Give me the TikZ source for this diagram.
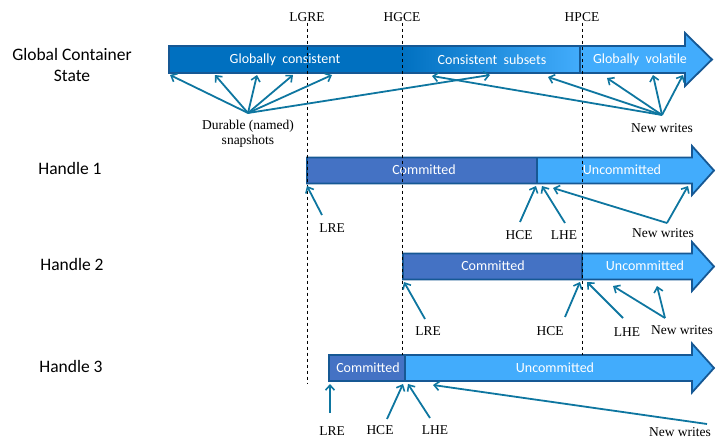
\documentclass[tikz,border=0pt]{standalone}
\usepackage{fontspec}
\setmainfont{Liberation Serif}
\newfontfamily\calibri{Carlito}
\usetikzlibrary{arrows.meta}

\definecolor{gdark}{RGB}{0,112,192}
\definecolor{glight}{RGB}{66,172,252}
\definecolor{commit}{RGB}{68,114,196}
\definecolor{edgecol}{RGB}{22,88,148}
\definecolor{ptrcol}{RGB}{14,118,160}

\tikzset{
  ptr/.style={draw=ptrcol, line width=1.8pt, -{Straight Barb[length=5pt,width=9pt,line width=1.6pt]}},
  epoch/.style={dashed, line width=0.9pt},
  barline/.style={draw=edgecol, line width=1.8pt},
  bartext/.style={text=white, font=\calibri\fontsize{14}{16}\selectfont},
  side/.style={font=\calibri\fontsize{17.5}{21}\selectfont, align=center},
  note/.style={font=\fontsize{13.5}{15}\selectfont, align=center, inner sep=1pt},
}

% arrow-shaped bars: left x, centre y
\newcommand{\gshape}{(169,46) -- (685,46) -- (685,33) -- (712,59.5) -- (685,86) -- (685,73) -- (169,73) -- cycle}
\newcommand{\hshape}[2]{(#1,{#2-13}) -- (692,{#2-13}) -- (692,{#2-24.5}) -- (714,#2) -- (692,{#2+24.5}) -- (692,{#2+13}) -- (#1,{#2+13}) -- cycle}

\begin{document}
\begin{tikzpicture}[x=1pt,y=-1pt]
\useasboundingbox (0,0) rectangle (716,439);

% row labels
\node[side] (gstate) at (72,65) {Global Container\\State};
\node[side] (h1) at (70,168) {Handle 1};
\node[side] (h2) at (72,264) {Handle 2};
\node[side] (h3) at (71,366) {Handle 3};

% global bar
\fill[glight] \gshape;
\fill[gdark] (169,46) rectangle (400,73);
\shade[left color=gdark, right color=glight] (400,46) rectangle (580,73);
\draw[barline] \gshape;
\draw[barline] (580,46) -- (580,73);
\node[bartext] (gcons) at (285,60) {Globally\ \ consistent};
\node[bartext] (csub) at (492,60) {Consistent\ \ subsets};
\node[bartext] (gvol) at (640,60) {Globally\ \ volatile};

% handle 1
\fill[glight] \hshape{307}{170.5};
\fill[commit] (307,157.5) rectangle (537,183.5);
\draw[barline] \hshape{307}{170.5};
\draw[barline] (537,157.5) -- (537,183.5);
\node[bartext] (c1) at (424,170) {Committed};
\node[bartext] (u1) at (622,170) {Uncommitted};

% handle 2
\fill[glight] \hshape{403}{266.5};
\fill[commit] (403,253.5) rectangle (582,279.5);
\draw[barline] \hshape{403}{266.5};
\draw[barline] (582,253.5) -- (582,279.5);
\node[bartext] (c2) at (493,266) {Committed};
\node[bartext] (u2) at (645,266) {Uncommitted};

% handle 3
\fill[glight] \hshape{329}{368};
\fill[commit] (329,355) rectangle (405,381);
\draw[barline] \hshape{329}{368};
\draw[barline] (405,355) -- (405,381);
\node[bartext] (c3) at (368,368) {Committed};
\node[bartext] (u3) at (555,368) {Uncommitted};

% epochs
\node[note] (lgre) at (307,17) {LGRE};
\node[note] (hgce) at (402,17) {HGCE};
\node[note] (hpce) at (582,17) {HPCE};
\draw[epoch] (lgre.south) -- (lgre.south |- 0,384);
\draw[epoch] (hgce.south) -- (hgce.south |- 0,355);
\draw[epoch] (hpce.south) -- (hpce.south |- 0,355);

% snapshots and new writes on the global bar
\node[note] (dur) at (248,134) {Durable (named)\\snapshots};
\coordinate (durtop) at (248,113);
\foreach \x [count=\i] in {170,215,257,293,332,490} {
  \coordinate (snap\i) at (\x,75);
  \draw[ptr] (durtop) -- (snap\i);
}
\node[note] (nw0) at (662,128) {New writes};
\coordinate (nw0top) at (662,115);
\foreach \x/\y [count=\i] in {432/76,548/77,607/78,653/75,683/75} {
  \coordinate (gw\i) at (\x,\y);
  \draw[ptr] (nw0top) -- (gw\i);
}

% handle 1 markers
\node[note] (lre1) at (332,228) {LRE};
\node[note] (hce1) at (519,235) {HCE};
\node[note] (lhe1) at (564,235) {LHE};
\node[note] (nw1) at (663,233) {New writes};
\coordinate (lre1s) at (322,215);
\coordinate (hce1s) at (520,222);
\coordinate (lhe1s) at (565,223);
\coordinate (nw1s) at (667,223);
\draw[ptr] (lre1s) -- (307,186);
\draw[ptr] (hce1s) -- (536,186);
\draw[ptr] (lhe1s) -- (542,186);
\draw[ptr] (nw1s) -- (553,188);
\draw[ptr] (nw1s) -- (688,186);

% handle 2 markers
\node[note] (lre2) at (428,331) {LRE};
\node[note] (hce2) at (550,331) {HCE};
\node[note] (lhe2) at (627,332) {LHE};
\node[note] (nw2) at (682,330) {New writes};
\coordinate (lre2s) at (425,319);
\coordinate (hce2s) at (565,317);
\coordinate (lhe2s) at (623,318);
\coordinate (nw2s) at (665,318);
\draw[ptr] (lre2s) -- (404,282);
\draw[ptr] (hce2s) -- (580,282);
\draw[ptr] (lhe2s) -- (587,282);
\draw[ptr] (nw2s) -- (613,286);
\draw[ptr] (nw2s) -- (657,286);

% handle 3 markers
\node[note] (lre3) at (332,431) {LRE};
\node[note] (hce3) at (380,430) {HCE};
\node[note] (lhe3) at (435,430) {LHE};
\node[note] (nw3) at (680,432) {New writes};
\coordinate (lre3s) at (330,413);
\coordinate (hce3s) at (387,419);
\coordinate (lhe3s) at (430,418);
\coordinate (nw3s) at (707,424);
\draw[ptr] (lre3s) -- (330,384);
\draw[ptr] (hce3s) -- (403,384);
\draw[ptr] (lhe3s) -- (408,384);
\draw[ptr] (nw3s) -- (433,385);
\end{tikzpicture}
\end{document}
